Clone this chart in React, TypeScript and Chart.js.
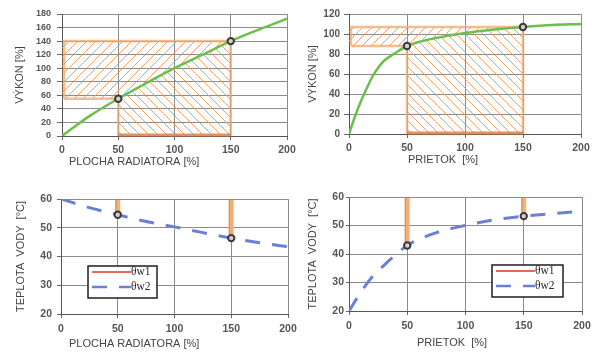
import React, { useEffect, useRef } from "react";
import { Chart, registerables } from "chart.js";

Chart.register(...registerables);

// ---------------- data ----------------
const MARK_X = [50, 150];
const LEGEND_LABELS = ["θw1", "θw2"];

// Chart 1: výkon vs plocha radiátora
const AREA_X = [0, 25, 50, 75, 100, 125, 150, 175, 200];
const AREA_POWER = [0, 30, 55, 78, 100, 120, 140, 157, 173];

// Chart 2: výkon vs prietok
const FLOW_X = [0, 5, 10, 15, 20, 25, 30, 40, 50, 60, 75, 100, 125, 150, 175, 200];
const FLOW_POWER = [0, 17, 32, 45, 57, 66, 73, 81, 88, 92, 96, 101, 104.5, 107, 109, 110];

// Chart 3: teplota vody vs plocha radiátora
const AREA_TW1 = [60, 60, 60, 60, 60, 60, 60, 60, 60];
const AREA_TW2 = [60, 57, 54.5, 52.2, 50.3, 48.3, 46.4, 44.8, 43.4];

// Chart 4: teplota vody vs prietok
const FLOW_X2 = [0, 10, 20, 30, 40, 50, 75, 100, 125, 150, 175, 200];
const FLOW_TW1 = [60, 60, 60, 60, 60, 60, 60, 60, 60, 60, 60, 60];
const FLOW_TW2 = [20, 26.5, 32, 36, 39.7, 43, 47.5, 50, 52, 53.3, 54.2, 55];

// ---------------- styles ----------------
const FONT = '"Liberation Sans", Arial, sans-serif';
const SERIF = '"Liberation Serif", "Times New Roman", serif';
const GRID = "#8c8c8c";
const AXIS = "#555555";
const TICK_COLOR = "#555555";
const TITLE_COLOR = "#444444";
const GREEN = "#6cbf4a";
const RED = "#e8675c";
const BLUE = "#6b7fd6";
const HATCH = "rgba(240,145,85,0.85)";
const OUTLINE = "rgba(245,165,105,0.75)";
const OUTLINE_DARK = "rgba(225,125,70,0.85)";
const BLUE_DASH = [15, 12];

const valueAt = (xs: number[], ys: number[], x: number) => ys[xs.indexOf(x)];
const pts = (xs: number[], ys: number[]) => xs.map((x, i) => ({ x, y: ys[i] }));

const markerDataset = (xs: number[], ys: number[]) => ({
  data: MARK_X.map((x) => ({ x, y: valueAt(xs, ys, x) })),
  showLine: false,
  pointRadius: 3.2,
  pointBorderWidth: 2,
  pointBorderColor: "#3a3a3a",
  pointBackgroundColor: "#cfcfcf",
  order: 0,
});

// ---------------- plugins ----------------
function drawHatch(ctx: CanvasRenderingContext2D, area: any, dir: number) {
  const H = area.width + area.height + 20;
  const step = 9;
  ctx.strokeStyle = HATCH;
  ctx.lineWidth = 1;
  ctx.beginPath();
  for (let k = area.left - H; k < area.right + H; k += step) {
    if (dir > 0) {
      ctx.moveTo(k, area.bottom);
      ctx.lineTo(k + H, area.bottom - H);
    } else {
      ctx.moveTo(k, area.top);
      ctx.lineTo(k + H, area.top + H);
    }
  }
  ctx.stroke();
}

const hatchPlugin = (xs: number[], ys: number[]) => ({
  id: "hatchRegions",
  beforeDatasetsDraw(chart: any) {
    const { ctx, chartArea, scales } = chart;
    const px = (v: number) => scales.x.getPixelForValue(v);
    const py = (v: number) => scales.y.getPixelForValue(v);
    const [x1, x2] = MARK_X;
    const y1 = valueAt(xs, ys, x1);
    const y2 = valueAt(xs, ys, x2);
    const curve = xs
      .map((x, i) => [x, ys[i]])
      .filter(([x]) => x >= x1 && x <= x2)
      .map(([x, y]) => [px(x), py(y)]);

    // region A (upper-left, "/" hatch)
    ctx.save();
    ctx.beginPath();
    ctx.moveTo(px(0), py(y1));
    curve.forEach(([a, b]) => ctx.lineTo(a, b));
    ctx.lineTo(px(0), py(y2));
    ctx.closePath();
    ctx.clip();
    drawHatch(ctx, chartArea, 1);
    ctx.restore();

    // region B (lower-right, "\" hatch)
    ctx.save();
    ctx.beginPath();
    ctx.moveTo(px(x1), py(0));
    ctx.lineTo(px(x2), py(0));
    [...curve].reverse().forEach(([a, b]) => ctx.lineTo(a, b));
    ctx.closePath();
    ctx.clip();
    drawHatch(ctx, chartArea, -1);
    ctx.restore();

    // outlines
    ctx.save();
    ctx.strokeStyle = OUTLINE;
    ctx.lineWidth = 2.5;
    ctx.beginPath();
    ctx.moveTo(px(0) + 2, py(y1));
    ctx.lineTo(px(x1), py(y1));
    ctx.moveTo(px(0) + 2, py(y1));
    ctx.lineTo(px(0) + 2, py(y2));
    ctx.lineTo(px(x2), py(y2));
    ctx.lineTo(px(x2), py(0));
    ctx.moveTo(px(x1), py(0));
    ctx.lineTo(px(x1), py(y1));
    ctx.stroke();
    ctx.strokeStyle = OUTLINE_DARK;
    ctx.lineWidth = 3;
    ctx.beginPath();
    ctx.moveTo(px(x1), py(0) - 1);
    ctx.lineTo(px(x2), py(0) - 1);
    ctx.stroke();
    ctx.restore();
  },
});

const barsPlugin = (xs: number[], top: number[], low: number[]) => ({
  id: "diffBars",
  beforeDatasetsDraw(chart: any) {
    const { ctx, scales } = chart;
    ctx.save();
    MARK_X.forEach((x) => {
      const p = scales.x.getPixelForValue(x);
      const a = scales.y.getPixelForValue(valueAt(xs, top, x));
      const b = scales.y.getPixelForValue(valueAt(xs, low, x));
      ctx.fillStyle = "rgba(242,175,115,0.95)";
      ctx.fillRect(p - 2.5, a, 5, b - a);
      ctx.fillStyle = "rgba(220,130,70,0.8)";
      ctx.fillRect(p - 2.5, a, 1.2, b - a);
    });
    ctx.restore();
  },
});

const legendPlugin = (dx: number, dy: number, w: number, h: number) => ({
  id: "boxLegend",
  afterDatasetsDraw(chart: any) {
    const { ctx, chartArea } = chart;
    const x0 = chartArea.left + dx;
    const y0 = chartArea.top + dy;
    ctx.save();
    ctx.fillStyle = "#ffffff";
    ctx.fillRect(x0, y0, w, h);
    ctx.strokeStyle = "#1e1e1e";
    ctx.lineWidth = 1.5;
    ctx.strokeRect(x0, y0, w, h);
    const rows = [
      { color: RED, width: 2, dash: [] as number[], y: y0 + 6 },
      { color: BLUE, width: 2.5, dash: BLUE_DASH, y: y0 + 21 },
    ];
    rows.forEach((r, i) => {
      ctx.strokeStyle = r.color;
      ctx.lineWidth = r.width;
      ctx.setLineDash(r.dash);
      ctx.beginPath();
      ctx.moveTo(x0 + 4, r.y);
      ctx.lineTo(x0 + 43, r.y);
      ctx.stroke();
      ctx.setLineDash([]);
      ctx.fillStyle = "#2a2a2a";
      ctx.font = `11.5px ${SERIF}`;
      ctx.textAlign = "left";
      ctx.textBaseline = "middle";
      ctx.fillText(LEGEND_LABELS[i], x0 + 43, r.y);
    });
    ctx.restore();
  },
});

const xTitlePlugin = (text: string, dx: number, y: number) => ({
  id: "xTitle",
  afterDraw(chart: any) {
    const { ctx, chartArea } = chart;
    ctx.save();
    ctx.font = `11px ${FONT}`;
    ctx.fillStyle = TITLE_COLOR;
    ctx.textAlign = "left";
    ctx.textBaseline = "middle";
    ctx.fillText(text, chartArea.left + dx, y);
    ctx.restore();
  },
});

// ---------------- chart specs ----------------
type Spec = {
  left: number;
  top: number;
  width: number;
  height: number;
  padTop: number;
  padRight: number;
  yWidth: number;
  xHeight: number;
  yMin: number;
  yMax: number;
  yStep: number;
  yTickSize: number;
  yTickLen: number;
  yTickPad: number;
  yTitle: string;
  yTitlePad: number;
  xTickLen: number;
  xTickPad: number;
  datasets: any[];
  plugins: any[];
};

const SPECS: Spec[] = [
  {
    left: 0, top: 0, width: 300, height: 180, padTop: 14, padRight: 13,
    yWidth: 62, xHeight: 44, yMin: 0, yMax: 180, yStep: 20, yTickSize: 9,
    yTickLen: 5, yTickPad: 6, yTitle: "VÝKON [%]", yTitlePad: 13.4,
    xTickLen: 4, xTickPad: 4,
    datasets: [
      { data: pts(AREA_X, AREA_POWER), borderColor: GREEN, borderWidth: 2.5, pointRadius: 0, cubicInterpolationMode: "monotone", order: 1 },
      markerDataset(AREA_X, AREA_POWER),
    ],
    plugins: [hatchPlugin(AREA_X, AREA_POWER), xTitlePlugin("PLOCHA RADIATORA [%]", 7, 162)],
  },
  {
    left: 300, top: 0, width: 300, height: 180, padTop: 14, padRight: 19,
    yWidth: 49, xHeight: 46, yMin: 0, yMax: 120, yStep: 20, yTickSize: 10,
    yTickLen: 5, yTickPad: 4, yTitle: "VÝKON [%]", yTitlePad: 6.4,
    xTickLen: 4, xTickPad: 4,
    datasets: [
      { data: pts(FLOW_X, FLOW_POWER), borderColor: GREEN, borderWidth: 2.5, pointRadius: 0, cubicInterpolationMode: "monotone", order: 1 },
      markerDataset(FLOW_X, FLOW_POWER),
    ],
    plugins: [hatchPlugin(FLOW_X, FLOW_POWER), xTitlePlugin("PRIETOK  [%]", 59, 160)],
  },
  {
    left: 0, top: 180, width: 300, height: 183, padTop: 19, padRight: 12,
    yWidth: 61, xHeight: 49, yMin: 20, yMax: 60, yStep: 10, yTickSize: 10.5,
    yTickLen: 4, yTickPad: 5, yTitle: "TEPLOTA  VODY  [°C]", yTitlePad: 14,
    xTickLen: 4, xTickPad: 5,
    datasets: [
      { data: pts(AREA_X, AREA_TW1), borderColor: RED, borderWidth: 2, pointRadius: 0, order: 2 },
      { data: pts(AREA_X, AREA_TW2), borderColor: BLUE, borderWidth: 3, borderDash: BLUE_DASH, pointRadius: 0, cubicInterpolationMode: "monotone", order: 1 },
      markerDataset(AREA_X, AREA_TW2),
    ],
    plugins: [barsPlugin(AREA_X, AREA_TW1, AREA_TW2), legendPlugin(27, 67, 69, 32), xTitlePlugin("PLOCHA RADIATORA [%]", 8, 164)],
  },
  {
    left: 300, top: 180, width: 300, height: 183, padTop: 17, padRight: 18,
    yWidth: 49, xHeight: 52, yMin: 20, yMax: 60, yStep: 10, yTickSize: 10.5,
    yTickLen: 3, yTickPad: 2, yTitle: "TEPLOTA  VODY  [°C]", yTitlePad: 6.5,
    xTickLen: 4, xTickPad: 5,
    datasets: [
      { data: pts(FLOW_X2, FLOW_TW1), borderColor: RED, borderWidth: 2, pointRadius: 0, order: 2 },
      { data: pts(FLOW_X2, FLOW_TW2), borderColor: BLUE, borderWidth: 3, borderDash: BLUE_DASH, pointRadius: 0, cubicInterpolationMode: "monotone", order: 1 },
      markerDataset(FLOW_X2, FLOW_TW2),
    ],
    plugins: [barsPlugin(FLOW_X2, FLOW_TW1, FLOW_TW2), legendPlugin(143, 68, 71, 32), xTitlePlugin("PRIETOK  [%]", 68, 163)],
  },
];

function ChartBox({ spec }: { spec: Spec }) {
  const ref = useRef<HTMLCanvasElement | null>(null);
  useEffect(() => {
    if (!ref.current) return;
    const s = spec;
    const chart = new Chart(ref.current, {
      type: "line",
      data: { datasets: s.datasets },
      plugins: s.plugins,
      options: {
        responsive: false,
        animation: false,
        devicePixelRatio: 1,
        layout: { padding: { left: 0, top: s.padTop, right: s.padRight, bottom: 0 } },
        plugins: { legend: { display: false }, tooltip: { enabled: false } },
        scales: {
          x: {
            type: "linear",
            min: 0,
            max: 200,
            ticks: {
              stepSize: 50,
              autoSkip: false,
              color: TICK_COLOR,
              font: { family: FONT, size: 10.5, weight: "bold" },
              padding: s.xTickPad,
              maxRotation: 0,
            },
            grid: { color: GRID, tickLength: s.xTickLen, tickColor: "#666" },
            border: { color: AXIS, width: 1 },
            afterFit: (sc: any) => {
              sc.height = s.xHeight;
              sc.paddingLeft = 0;
              sc.paddingRight = 0;
            },
          },
          y: {
            type: "linear",
            min: s.yMin,
            max: s.yMax,
            ticks: {
              stepSize: s.yStep,
              autoSkip: false,
              color: TICK_COLOR,
              font: { family: FONT, size: s.yTickSize, weight: "bold" },
              padding: s.yTickPad,
            },
            grid: { color: GRID, tickLength: s.yTickLen, tickColor: "#666" },
            border: { color: AXIS, width: 1 },
            title: {
              display: true,
              text: s.yTitle,
              color: TITLE_COLOR,
              font: { family: FONT, size: 11 },
              padding: { top: s.yTitlePad, bottom: 0 },
            },
            afterFit: (sc: any) => {
              sc.width = s.yWidth;
              sc.paddingTop = 0;
              sc.paddingBottom = 0;
            },
          },
        },
      } as any,
    });
    return () => chart.destroy();
  }, [spec]);
  return (
    <canvas
      ref={ref}
      width={spec.width}
      height={spec.height}
      style={{ position: "absolute", left: spec.left, top: spec.top, width: spec.width, height: spec.height }}
    />
  );
}

export default function App() {
  return (
    <div style={{ position: "fixed", left: 0, top: 0, width: 600, height: 363, background: "#ffffff", overflow: "hidden" }}>
      {SPECS.map((s, i) => (
        <ChartBox key={i} spec={s} />
      ))}
    </div>
  );
}
